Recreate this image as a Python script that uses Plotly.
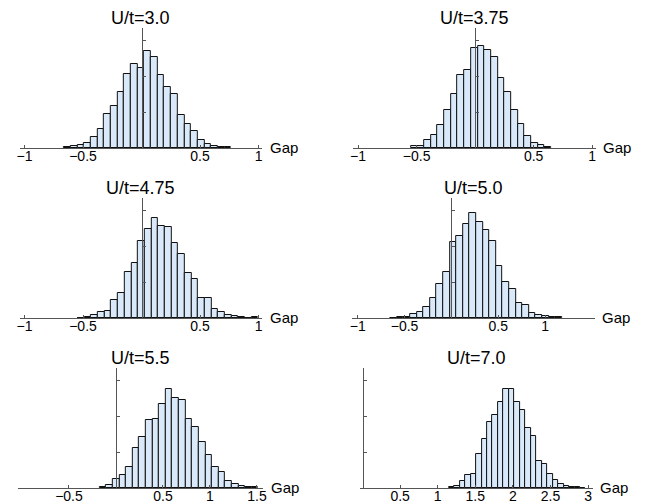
import plotly.graph_objects as go

titles = ["U/t=3.0", "U/t=3.75", "U/t=4.75", "U/t=5.0", "U/t=5.5", "U/t=7.0"]

bin_start = [-0.662, -0.549, -0.544, -0.651, -0.175, 1.147]
bin_width = [0.0571, 0.0571, 0.0571, 0.0704, 0.0704, 0.0728]

counts_30 = [3, 6, 8, 15, 32, 52, 96, 116, 156, 206, 233, 224, 270, 253, 204, 170, 151, 93, 66, 47, 23, 11, 6, 3, 2]
counts_375 = [5, 6, 21, 36, 63, 105, 149, 203, 218, 278, 283, 273, 253, 196, 157, 107, 67, 33, 13, 7, 3]
counts_475 = [1, 3, 8, 16, 19, 51, 69, 127, 152, 215, 249, 279, 255, 253, 209, 178, 124, 109, 55, 55, 25, 16, 9, 6, 4, 1, 3]
counts_50 = [1, 2, 3, 10, 16, 32, 57, 95, 127, 212, 229, 261, 292, 266, 244, 213, 145, 100, 82, 41, 36, 13, 7, 5, 4, 3]
counts_55 = [4, 9, 25, 37, 58, 111, 141, 188, 192, 235, 276, 251, 244, 192, 169, 127, 93, 59, 44, 19, 12, 6, 3, 2]
counts_70 = [3, 5, 19, 35, 38, 94, 136, 184, 203, 239, 276, 276, 239, 216, 167, 144, 76, 68, 39, 23, 12, 5, 4, 2, 1]
counts = [counts_30, counts_375, counts_475, counts_50, counts_55, counts_70]

x_ranges = [[-1.04, 1.031], [-1.042, 1.029], [-1.04, 1.031], [-1.059, 1.528], [-1.044, 1.566], [-0.033, 3.06]]
x_ticks = [[-1, -0.5, 0.5, 1], [-1, -0.5, 0.5, 1], [-1, -0.5, 0.5, 1],
           [-1, -0.5, 0.5, 1], [-0.5, 0.5, 1, 1.5], [0.5, 1, 1.5, 2, 2.5, 3]]
y_max = 334

W, H = 647, 504
# panel boxes in pixels: left, right, top, bottom
boxes = [(17, 262, 28, 148), (354, 599, 28, 148),
         (17, 262, 198, 318), (353, 598, 198, 318),
         (15, 263, 368, 488), (361, 596, 368, 488)]

fill = "#d9e9fa"
axis_col = "#555555"
fnt = "Liberation Sans, Arial, sans-serif"

fig = go.Figure()
layout = dict(width=W, height=H, margin=dict(l=0, r=0, t=0, b=0),
              paper_bgcolor="white", plot_bgcolor="white", showlegend=False,
              font=dict(family=fnt, color="black"), bargap=0)
annotations = []

for i in range(6):
    n = str(i + 1) if i > 0 else ""
    left, right, top, bottom = boxes[i]
    xd = [left / W, right / W]
    yd = [1 - bottom / H, 1 - top / H]
    w = bin_width[i]
    centers = [bin_start[i] + (k + 0.5) * w for k in range(len(counts[i]))]
    fig.add_trace(go.Bar(x=centers, y=counts[i], width=w,
                         marker=dict(color=fill, line=dict(color="#111111", width=1)),
                         xaxis="x" + n, yaxis="y" + n))
    x0, x1 = x_ranges[i]
    ypos = xd[0] + (0 - x0) / (x1 - x0) * (xd[1] - xd[0])
    layout["xaxis" + n] = dict(domain=xd, range=x_ranges[i], anchor="y" + n,
                               showgrid=False, zeroline=False, showline=True,
                               linecolor=axis_col, linewidth=1,
                               ticks="inside", ticklen=3, tickcolor=axis_col,
                               tickvals=x_ticks[i], tickfont=dict(size=14),
                               ticklabelstandoff=-5)
    layout["yaxis" + n] = dict(domain=yd, range=[0, y_max], anchor="free", position=ypos,
                               showgrid=False, zeroline=False, showline=True,
                               linecolor=axis_col, linewidth=1,
                               ticks="inside", ticklen=3, tickcolor=axis_col,
                               tickvals=[100, 200, 300], showticklabels=False)
    annotations.append(dict(text=titles[i], xref="paper", yref="paper",
                            x=(xd[0] + xd[1]) / 2, y=yd[1] + 10 / H,
                            xanchor="center", yanchor="middle", showarrow=False,
                            font=dict(size=18)))
    annotations.append(dict(text="Gap", xref="paper", yref="paper",
                            x=xd[1] + 6 / W, y=yd[0] + 1 / H,
                            xanchor="left", yanchor="middle", showarrow=False,
                            font=dict(size=15)))

layout["annotations"] = annotations
fig.update_layout(**layout)
fig.write_html("out.html", config={"displayModeBar": False},
               post_script="document.body.style.margin='0';")
